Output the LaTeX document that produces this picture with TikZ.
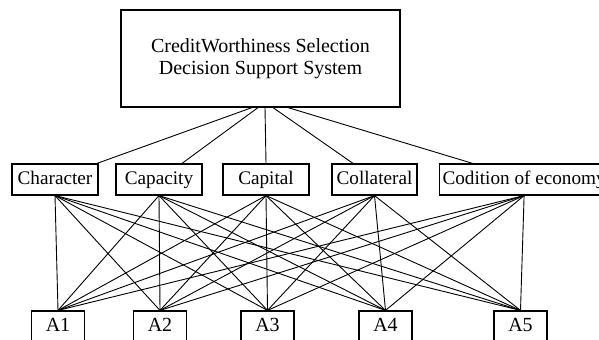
\documentclass[tikz,border=0pt]{standalone}
\usepackage{fontspec}
\setmainfont{Liberation Serif}

\begin{document}
\begin{tikzpicture}[x=0.5pt, y=-0.5pt, font=\fontsize{10}{11}\selectfont,
  box/.style={draw, line width=0.6pt, inner sep=0pt, minimum height=15.5pt,
    text height=6.8pt, text depth=2pt},
  crit/.style={box, font=\fontsize{9.6}{11}\selectfont},
  link/.style={line width=0.45pt}]
\useasboundingbox (0,0) rectangle (599,340);
\node[draw, line width=0.6pt, minimum width=139.5pt, minimum height=48.5pt, align=center] at (260.5,58.5) (dss) {CreditWorthiness Selection\\Decision Support System};
\node[crit, minimum width=43pt] at (55,179.5) (c1) {Character};
\node[crit, minimum width=43pt] at (159,179.5) (c2) {Capacity};
\node[crit, minimum width=43pt] at (266,179.5) (c3) {Capital};
\node[crit, minimum width=42.5pt] at (374.5,179.5) (c4) {Collateral};
\node[crit, minimum width=84.5pt, anchor=west] at (439,179.5) (c5) {Codition of economy};
\foreach \x [count=\i] in {58,160,267.5,385.5,520.5}
  \node[box, minimum width=26.5pt] at (\x,326.5) (a\i) {A\i};
\foreach \i/\s/\t in {1/-4.25/21, 2/-1.25/11.5, 3/2.25/0, 4/6.25/-10.75, 5/13.75/-25.75}
  \draw[link] ([xshift=\s pt]dss.south) -- ([xshift=\t pt]c\i.north);
\foreach \i in {1,...,5}
  \foreach \j in {1,...,5}
    \path[link] (c\i.south) edge (a\j.north);
\end{tikzpicture}
\end{document}
